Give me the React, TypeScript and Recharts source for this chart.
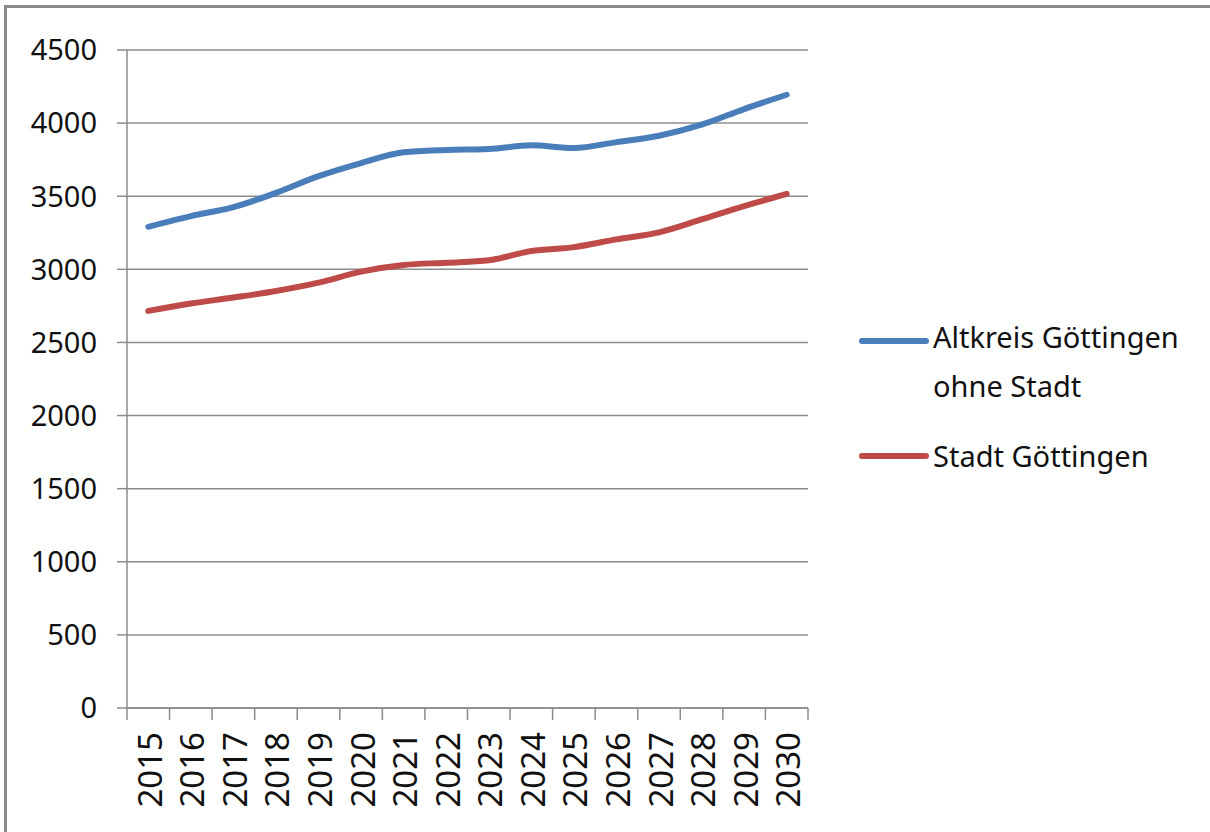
import React from 'react';
import { LineChart, Line, XAxis, YAxis, CartesianGrid, Legend } from 'recharts';

const years = ['2015', '2016', '2017', '2018', '2019', '2020', '2021', '2022', '2023', '2024', '2025', '2026', '2027', '2028', '2029', '2030'];
const altkreis = [3291, 3364, 3425, 3523, 3637, 3727, 3800, 3816, 3823, 3848, 3830, 3870, 3914, 3989, 4096, 4194];
const stadt = [2716, 2766, 2807, 2852, 2909, 2984, 3030, 3045, 3062, 3125, 3152, 3205, 3253, 3341, 3432, 3516];
const yTicks = [0, 500, 1000, 1500, 2000, 2500, 3000, 3500, 4000, 4500];
const seriesNames = ['Altkreis Göttingen ohne Stadt', 'Stadt Göttingen'];
const seriesColors = ['#4A7EBB', '#BE4B48'];

const data = years.map((year, i) => ({ year, altkreis: altkreis[i], stadt: stadt[i] }));

const FONT = '"Noto Sans", "Open Sans", sans-serif';
const GRID = '#8c8c8c';
const HALF_BAND = 21.3;

function XTick(props: any) {
  const { x, y, payload } = props;
  const off = payload && typeof payload.offset === 'number' && payload.offset > 0 ? payload.offset : HALF_BAND;
  const isLast = payload.value === years[years.length - 1];
  return (
    <g>
      <line x1={x - off} x2={x - off} y1={y} y2={y + 12} stroke={GRID} strokeWidth={1.5} />
      {isLast && <line x1={x + off} x2={x + off} y1={y} y2={y + 12} stroke={GRID} strokeWidth={1.5} />}
      <text
        transform={`translate(${x + 13.5},${y + 24}) rotate(-90)`}
        textAnchor="end"
        fontSize={33}
        fill="#111"
        fontFamily={FONT}
      >
        {payload.value}
      </text>
    </g>
  );
}

function renderLegend(props: any) {
  const payload = props.payload || [];
  return (
    <div style={{ width: 352, fontFamily: FONT, fontSize: 29, color: '#111', lineHeight: '49px' }}>
      {payload.map((entry: any, i: number) => (
        <div key={i} style={{ display: 'flex', alignItems: 'flex-start', marginBottom: i === 0 ? 21 : 0 }}>
          <svg width={72} height={8} style={{ marginTop: i === 0 ? 25 : 21, flex: 'none' }}>
            <line x1={4} x2={68} y1={4} y2={4} stroke={entry.color} strokeWidth={6} strokeLinecap="round" />
          </svg>
          <span style={{ width: 262, marginLeft: 3 }}>{entry.value}</span>
        </div>
      ))}
    </div>
  );
}

export default function App() {
  return (
    <div style={{ position: 'absolute', left: 0, top: 0, width: 1210, height: 832, background: '#fff' }}>
      <div
        style={{
          position: 'absolute',
          left: 4,
          top: 5,
          width: 1206,
          height: 827,
          borderLeft: '3px solid #8a8a8a',
          borderTop: '3px solid #8a8a8a',
          boxSizing: 'border-box',
        }}
      />
      <div style={{ position: 'absolute', left: 0, top: 0 }}>
        <LineChart
          width={1210}
          height={832}
          data={data}
          margin={{ top: 50, right: 401, bottom: 0, left: 0 }}
          style={{ fontFamily: FONT }}
        >
          <CartesianGrid horizontal={true} vertical={false} stroke={GRID} strokeWidth={1.5} />
          <XAxis
            dataKey="year"
            type="category"
            height={124}
            interval={0}
            padding={{ left: HALF_BAND, right: HALF_BAND }}
            axisLine={{ stroke: GRID, strokeWidth: 1.5 }}
            tickLine={false}
            tickSize={0}
            tickMargin={0}
            tick={<XTick />}
          />
          <YAxis
            type="number"
            domain={[0, 4500]}
            ticks={yTicks}
            interval={0}
            width={127}
            axisLine={{ stroke: GRID, strokeWidth: 1.5 }}
            tickLine={{ stroke: GRID, strokeWidth: 1.5 }}
            tickSize={10}
            tickMargin={20}
            tick={{ fontSize: 29, fill: '#111', fontFamily: FONT }}
          />
          <Legend
            layout="horizontal"
            verticalAlign="middle"
            align="right"
            content={renderLegend}
            wrapperStyle={{ position: 'absolute', left: 858, top: 312, width: 1, height: 1, overflow: 'visible' }}
          />
          <Line
            type="monotone"
            dataKey="altkreis"
            name={seriesNames[0]}
            stroke={seriesColors[0]}
            strokeWidth={6}
            strokeLinecap="round"
            dot={false}
            activeDot={false}
            isAnimationActive={false}
          />
          <Line
            type="monotone"
            dataKey="stadt"
            name={seriesNames[1]}
            stroke={seriesColors[1]}
            strokeWidth={6}
            strokeLinecap="round"
            dot={false}
            activeDot={false}
            isAnimationActive={false}
          />
        </LineChart>
      </div>
    </div>
  );
}
